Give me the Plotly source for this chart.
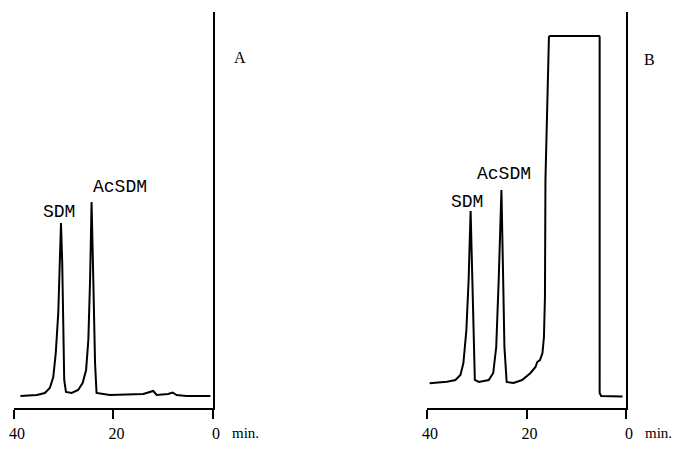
import plotly.graph_objects as go

# Chromatogram A (time in min, detector response in arbitrary units)
time_a = [38.7, 35.4, 33.8, 32.8, 32.1, 31.6, 31.1, 30.75, 30.55, 30.3, 30.1, 29.9, 29.55,
          28.4, 27.1, 26.2, 25.5, 25.05, 24.7, 24.4, 24.05, 23.7, 23.4, 20.7, 14.0, 13.2,
          12.0, 11.3, 9.0, 8.1, 7.3, 5.3, 0.5]
resp_a = [0, 1, 3, 8, 19, 43, 83, 133, 173, 133, 66, 16, 4,
          3, 6, 13, 26, 56, 116, 194, 116, 33, 3, 1, 2, 3,
          5, 1, 2, 3.5, 1, 0, 0]

# Chromatogram B
time_b = [39.5, 36.0, 34.3, 33.3, 32.7, 32.1, 31.65, 31.25, 30.9, 30.6, 30.4, 29.6,
          27.6, 26.7, 26.1, 25.6, 25.05, 24.7, 24.45, 24.0, 22.6, 20.9, 19.2, 18.2,
          17.85, 17.3, 16.8, 16.5, 16.3, 16.2, 15.5, 15.3, 5.4, 5.3, 5.35, 5.3, 5.0, 0.7]
resp_b = [12.7, 14.3, 16, 21, 33, 66, 116, 185, 116, 49, 16, 14,
          16, 23, 49, 116, 206, 116, 49, 14, 13, 16, 23, 29,
          34, 36, 43, 59, 99, 216, 359, 360, 360, 359, 200, 3, 0, -0.5]

tick_vals = [40, 20, 0]
tick_text = ["40", "20", "0"]

peak_labels_a = ["SDM", "AcSDM"]
peak_pos_a = [(31.0, 184), (18.7, 209)]
peak_labels_b = ["SDM", "AcSDM"]
peak_pos_b = [(31.9, 194), (24.6, 222)]

fig = go.Figure()
fig.add_trace(go.Scatter(x=time_a, y=resp_a, mode="lines",
                         line=dict(color="black", width=2), xaxis="x", yaxis="y",
                         showlegend=False))
fig.add_trace(go.Scatter(x=time_b, y=resp_b, mode="lines",
                         line=dict(color="black", width=2), xaxis="x2", yaxis="y2",
                         showlegend=False))

xcommon = dict(range=[40, 0], showline=True, linecolor="black", linewidth=1.6,
               ticks="outside", ticklen=9, tickwidth=1.6, tickcolor="black",
               tickvals=tick_vals, ticktext=tick_text, showgrid=False, zeroline=False,
               automargin=False, ticklabelstandoff=1, ticklabelshift=-3,
               ticklabeloverflow="allow",
               tickfont=dict(family="Liberation Serif, Times New Roman, serif",
                             size=16, color="black"))
ycommon = dict(range=[-12, 384], showline=True, linecolor="black", linewidth=1.6,
               side="right", showticklabels=False, ticks="", showgrid=False,
               zeroline=False, automargin=False)

# page body adds an 8px offset, so margins are reduced by 8px
fig.update_layout(
    width=680, height=469,
    margin=dict(l=6, r=62, t=4, b=69, autoexpand=False),
    paper_bgcolor="white", plot_bgcolor="white",
    xaxis=dict(domain=[0, 0.325], anchor="y", **xcommon),
    yaxis=dict(anchor="x", **ycommon),
    xaxis2=dict(domain=[0.675, 1.0], anchor="y2", **xcommon),
    yaxis2=dict(anchor="x2", **ycommon),
)

mono = dict(family="Liberation Mono", size=18, color="black")
for lab, (tx, ty) in zip(peak_labels_a, peak_pos_a):
    fig.add_annotation(x=tx, y=ty, xref="x", yref="y", text=lab, showarrow=False,
                       xanchor="center", yanchor="middle", font=mono)
for lab, (tx, ty) in zip(peak_labels_b, peak_pos_b):
    fig.add_annotation(x=tx, y=ty, xref="x2", yref="y2", text=lab, showarrow=False,
                       xanchor="center", yanchor="middle", font=mono)

serif = dict(family="Liberation Serif", size=16, color="black")
serif_s = dict(family="Liberation Serif", size=15, color="black")
fig.add_annotation(x=0.369, y=0.886, xref="paper", yref="paper", text="A",
                   showarrow=False, xanchor="center", yanchor="middle", font=serif)
fig.add_annotation(x=1.039, y=0.879, xref="paper", yref="paper", text="B",
                   showarrow=False, xanchor="center", yanchor="middle", font=serif)
fig.add_annotation(x=0.353, y=-0.063, xref="paper", yref="paper", text="min.",
                   showarrow=False, xanchor="left", yanchor="middle", font=serif_s)
fig.add_annotation(x=1.028, y=-0.063, xref="paper", yref="paper", text="min.",
                   showarrow=False, xanchor="left", yanchor="middle", font=serif_s)

fig.write_html("out.html")
